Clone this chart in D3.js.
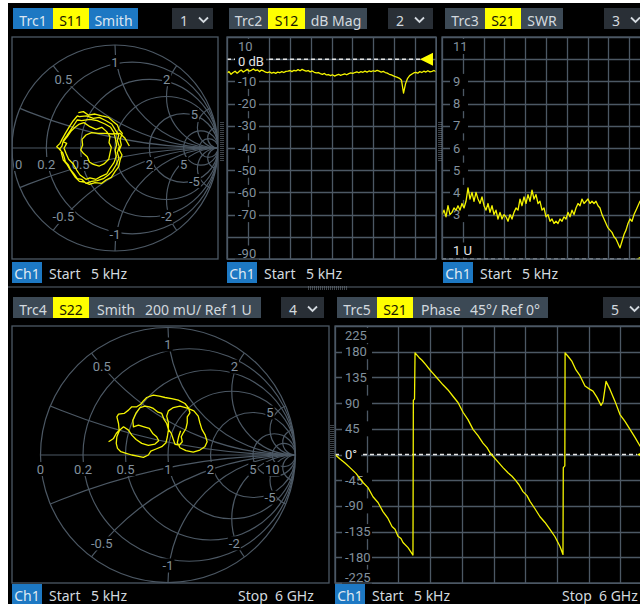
<!DOCTYPE html>
<html><head><meta charset="utf-8">
<script src="https://cdn.jsdelivr.net/npm/d3@7"></script>
<style>body{margin:0;background:#fff;}svg{display:block}</style>
</head><body>
<script>
// ================= DATA =================
const sweepStartGHz = 0.000005, sweepStopGHz = 6;

// Trc1 S11 (Smith) reflection coefficient
const s11Re = [-0.356,-0.307,-0.259,-0.194,-0.129,-0.065,-0.016,0.023,0.042,0.071,0.049,0.061,0.042,0.068,0.049,0.036,0.000,-0.036,-0.087,-0.129,-0.194,-0.249,-0.301,-0.346,-0.385,-0.411,-0.443,-0.469,-0.502,-0.515,-0.528,-0.566,-0.534,-0.515,-0.482,-0.443,-0.405,-0.366,
 -0.346,-0.275,-0.210,-0.152,-0.087,-0.032,0.000,0.036,0.023,0.042,0.023,0.039,0.010,-0.023,-0.065,-0.113,-0.172,-0.227,-0.282,-0.324,-0.366,-0.398,-0.430,-0.453,-0.482,-0.495,-0.508,-0.540,-0.515,-0.502,-0.469,-0.430,-0.392,-0.366,
 -0.324,-0.243,-0.172,-0.097,-0.042,-0.010,0.003,0.016,0.000,0.013,-0.010,-0.049,-0.081,-0.139,-0.184,-0.243,-0.282,-0.340,-0.372,-0.405,-0.450,-0.476,-0.495,-0.469,-0.502,-0.463,-0.430,-0.388,-0.346,-0.301,
 -0.243,-0.184,-0.129,-0.081,-0.049,-0.058,-0.036,-0.049,-0.061,-0.107,-0.152,-0.210,-0.249,-0.269,-0.307,-0.333,-0.314,-0.320,-0.282,-0.227,-0.162,-0.097,-0.023,0.049,0.097,0.139];
const s11Im = [0.343,0.353,0.320,0.330,0.311,0.298,0.256,0.223,0.175,0.142,0.084,0.029,-0.019,-0.068,-0.117,-0.181,-0.230,-0.285,-0.311,-0.343,-0.337,-0.353,-0.330,-0.324,-0.285,-0.246,-0.197,-0.155,-0.117,-0.068,-0.019,0.013,0.045,0.084,0.142,0.207,0.265,0.311,
 0.304,0.311,0.288,0.298,0.265,0.233,0.181,0.126,0.071,0.013,-0.045,-0.100,-0.165,-0.220,-0.262,-0.298,-0.317,-0.324,-0.343,-0.304,-0.298,-0.252,-0.214,-0.165,-0.133,-0.084,-0.045,-0.013,0.019,0.071,0.117,0.175,0.233,0.272,
 0.265,0.278,0.265,0.233,0.201,0.149,0.094,0.029,-0.019,-0.078,-0.142,-0.197,-0.252,-0.278,-0.304,-0.291,-0.304,-0.262,-0.214,-0.155,-0.110,-0.052,-0.003,0.045,0.061,0.110,0.159,0.201,0.233,0.246,
 0.207,0.181,0.201,0.159,0.110,0.052,0.006,-0.052,-0.110,-0.155,-0.175,-0.159,-0.136,-0.084,-0.052,-0.019,0.029,0.084,0.126,0.149,0.142,0.142,0.136,0.142,0.094,0.019];

// Trc2 S12 dB Mag (uniform sweep points)
const s12dB = [-6.2,-5.6,-6.8,-6.0,-5.4,-6.3,
 -5.5,-4.9,-5.8,-5.2,-4.6,-5.4,-5.0,-4.4,-5.1,-4.8,-5.6,-4.9,-5.3,-5.8,
 -6.0,-5.7,-6.3,-5.9,-6.4,-5.8,-6.1,-5.6,-6.0,-5.5,
 -5.4,-5.1,-5.6,-5.0,-5.3,-4.7,-5.2,-4.6,-5.0,-5.4,-5.1,-5.7,-5.3,-5.9,-6.2,-6.0,
 -6.5,-6.8,-6.4,-7.1,-6.9,-7.4,-7.0,-7.6,-7.2,-6.8,-7.3,-6.9,-6.6,-7.0,-6.5,-6.2,-6.4,
 -6.0,-5.7,-6.1,-5.6,-5.9,-5.4,-5.8,-5.3,-5.6,-5.2,-5.5,-5.0,-5.4,-5.8,-5.5,-6.0,-6.3,
 -6.8,-7.1,-7.5,-7.9,-8.2,-8.6,-9.5,
 -15.3,-11.0,
 -8.6,-7.4,-6.8,-6.2,
 -5.9,-6.3,-5.6,-6.0,-5.4,-5.8,-5.2,-5.7,-5.5,-5.1,-5.6];

// Trc3 S21 SWR (uniform sweep points)
const s21SWR = [3.0,3.2,2.9,3.4,3.0,3.1,3.3,3.2,3.4,3.2,3.5,3.3,3.6,4.2,3.7,4.0,3.6,4.0,3.7,3.5,
 3.8,3.4,3.2,3.5,3.1,3.4,3.0,3.2,2.8,3.1,2.8,3.0,2.9,2.7,3.0,2.8,3.1,3.3,3.2,3.7,
 3.4,3.8,3.5,3.9,3.6,4.1,3.7,3.9,3.5,3.6,3.2,3.3,2.9,3.0,2.7,2.8,2.6,2.7,2.6,2.8,
 2.7,2.9,2.8,3.1,2.9,3.2,3.0,3.3,3.5,3.4,3.7,3.5,3.6,3.7,3.5,3.6,3.5,3.6,3.4,3.3,
 3.0,2.8,2.6,2.4,2.3,2.2,2.0,1.9,1.7,1.5,1.8,2.1,2.3,2.6,2.8,2.7,3.0,3.2,3.4,3.6,
 3.5,3.7,3.6,3.8,3.7];

// Trc4 S22 (Smith)
const s22Re = [-0.466,-0.427,-0.406,-0.383,-0.388,-0.401,-0.388,-0.344,-0.310,-0.284,-0.245,-0.214,-0.193,-0.167,-0.115,-0.068,-0.023,0.029,0.081,0.133,0.159,0.172,0.151,0.151,0.141,0.120,0.104,0.112,0.089,0.055,0.042,0.026,0.003,-0.010,-0.031,-0.049,-0.083,-0.115,-0.146,-0.180,-0.219,-0.250,-0.276,-0.271,
 -0.232,-0.188,-0.146,-0.120,-0.089,-0.073,-0.102,-0.154,-0.206,-0.250,-0.284,-0.310,-0.349,-0.380,-0.401,-0.406,-0.396,-0.370,-0.328,-0.284,-0.240,-0.193,-0.154,-0.135,-0.094,-0.049,-0.016,-0.005,0.003,0.003,-0.010,0.003,0.042,0.094,0.151,0.203,0.237,0.250,0.266,0.292,0.307,0.289,0.250,0.198,0.141,0.094,0.073,0.083,0.099];
const s22Im = [0.104,0.130,0.169,0.195,0.247,0.299,0.320,0.326,0.352,0.378,0.378,0.398,0.424,0.451,0.469,0.461,0.451,0.443,0.430,0.404,0.372,0.331,0.299,0.253,0.208,0.174,0.143,0.104,0.078,0.083,0.122,0.169,0.201,0.247,0.279,0.326,0.339,0.365,0.378,0.383,0.372,0.331,0.273,0.221,
 0.234,0.221,0.208,0.169,0.143,0.112,0.086,0.076,0.091,0.122,0.156,0.195,0.221,0.195,0.143,0.091,0.052,0.026,0.013,0.000,-0.008,-0.018,0.000,0.031,0.047,0.065,0.096,0.143,0.195,0.253,0.305,0.346,0.372,0.383,0.367,0.346,0.305,0.253,0.201,0.156,0.104,0.065,0.039,0.023,0.034,0.057,0.096,0.143,0.190];

// Trc5 S21 Phase
const phaseGHz = [0.000005,0.095,0.189,0.284,0.397,0.530,0.625,0.719,0.814,0.908,1.003,1.079,1.136,1.192,1.249,1.287,1.382,1.476,1.483,1.505,1.515,
 1.590,1.647,1.722,1.798,1.855,1.931,1.987,2.044,2.139,2.233,2.328,2.423,2.517,2.612,2.707,2.801,2.877,2.934,2.990,3.085,3.180,3.274,3.350,3.407,3.483,3.558,3.634,3.691,3.785,3.880,3.975,4.069,4.164,4.259,4.315,4.321,4.350,4.355,
 4.410,4.486,4.561,4.637,4.732,4.826,4.883,4.959,5.035,5.073,5.130,5.205,5.300,5.394,5.489,5.584,5.678,5.773,5.868,6.000];
const phaseDeg = [0,-8,-15,-23,-33,-49,-58,-74,-84,-100,-112,-126,-131,-143,-147,-154,-163,-176,95,97,178,
 170,165,157,148,142,134,128,122,113,102,91,74,61,44,33,20,12,3,-3,-13,-23,-32,-38,-44,-53,-65,-72,-82,-95,-109,-119,-131,-144,-161,-175,-23,-20,178,
 172,163,148,138,120,114,111,100,86,92,128,114,93,70,58,44,30,15,2,-12];

// Axis tick labels
const dbTicks = [10,-10,-20,-30,-40,-50,-60,-70,-90];
const swrTicks = [11,9,8,7,6,5,4,3];
const phaseTicks = [225,180,135,90,45,-45,-90,-135,-180,-225];
const smithRes = [0.2,0.5,1,2,5,10];
const smithReact = [0.2,0.5,1,2,5,10];
const smithAxisLabelsBig = [0,0.2,0.5,1,2,5,10];
const smithAxisLabelsSmall = [0,0.2,0.5,2,5];
const smithReactLabels = [0.5,1,2,5,-0.5,-1,-2,-5];

// ================= DRAW =================
const W = 640, H = 604;
const FONT = '"Noto Sans", "Open Sans", sans-serif';
const LFONT = 'Roboto, "Noto Sans", sans-serif';
const COL = {grid:'#4c5864', lab:'#82909d', txt:'#d3d9df', slate:'#3c4955', blue:'#1d78c3',
             yel:'#ffff00', drop:'#292f36', trace:'#f4f400', ref:'#e4e4e4', dark:'#1a1a00'};

const svg = d3.select('body').append('svg').attr('width', W).attr('height', H);
const defs = svg.append('defs');
svg.append('rect').attr('width', W).attr('height', H).attr('fill', '#fff');
svg.append('rect').attr('x', 8).attr('y', 3).attr('width', W - 8).attr('height', H - 3).attr('fill', '#000');

function txt(x, y, s, o = {}) {
  return svg.append('text').attr('x', x).attr('y', y).attr('fill', o.fill || COL.txt)
    .attr('font-size', o.size || 14).attr('font-family', o.font || FONT)
    .attr('text-anchor', o.anchor || 'start').text(s);
}

function header(x, y, parts, drop) {
  let cx = x;
  parts.forEach(p => {
    svg.append('rect').attr('x', cx).attr('y', y).attr('width', p.w).attr('height', 21).attr('fill', p.bg);
    if (p.t2) {
      txt(cx + 8, y + 18, p.t, {fill: p.fg});
      txt(cx + p.o2, y + 18, p.t2, {fill: p.fg});
    } else {
      txt(cx + p.w / 2, y + 18, p.t, {fill: p.fg, anchor: 'middle'});
    }
    cx += p.w;
  });
  svg.append('rect').attr('x', drop.x).attr('y', y).attr('width', drop.w).attr('height', 21).attr('fill', COL.drop);
  txt(drop.x + 8, y + 18, drop.n, {fill: COL.txt});
  svg.append('path').attr('d', `M${drop.x + 27},${y + 9.5}l4.5,4.5l4.5,-4.5`)
    .attr('stroke', COL.txt).attr('stroke-width', 1.8).attr('fill', 'none');
}

function footer(x, y, stop) {
  svg.append('rect').attr('x', x).attr('y', y).attr('width', 30).attr('height', 21).attr('fill', COL.blue);
  txt(x + 15, y + 16.5, 'Ch1', {anchor: 'middle', fill: '#dfe8f2'});
  txt(x + 37, y + 16.5, 'Start');
  txt(x + 79, y + 16.5, '5 kHz');
  if (stop) {
    txt(stop.x, y + 16.5, 'Stop');
    txt(stop.x + 37, y + 16.5, '6 GHz');
  }
}

let clipN = 0;
function clipRect(x, y, w, h) {
  const id = 'cl' + (clipN++);
  defs.append('clipPath').attr('id', id).append('rect').attr('x', x).attr('y', y).attr('width', w).attr('height', h);
  return `url(#${id})`;
}
function clipCircle(cx, cy, r) {
  const id = 'cl' + (clipN++);
  defs.append('clipPath').attr('id', id).append('circle').attr('cx', cx).attr('cy', cy).attr('r', r);
  return `url(#${id})`;
}

function labelBox(x, base, s, w, fill) {
  svg.append('rect').attr('x', x - 3).attr('y', base - 12).attr('width', w).attr('height', 15).attr('fill', '#000');
  txt(x, base, s, {size: 13, fill: fill || COL.lab, font: LFONT});
}

// ---------- Cartesian panel ----------
function cartPanel(p) {
  const x = d3.scaleLinear().domain(p.xdom).range([p.x0, p.x1]);
  const y = d3.scaleLinear().domain(p.ydom).range([p.y1, p.y0]);
  const g = svg.append('g').attr('clip-path', clipRect(p.x0 - 1, p.y0 - 1, p.x1 - p.x0 + 2, p.y1 - p.y0 + 2));
  d3.range(0, 11).forEach(k => {
    const xx = Math.round(p.x0 + k * (p.x1 - p.x0) / 10) + 0.5;
    g.append('line').attr('x1', xx).attr('x2', xx).attr('y1', p.y0).attr('y2', p.y1)
      .attr('stroke', COL.grid).attr('stroke-width', 1.3);
  });
  d3.range(p.ydom[0], p.ydom[1] + 1e-9, p.ystep).forEach(v => {
    const yy = Math.round(y(v)) + 0.5;
    g.append('line').attr('x1', p.x0).attr('x2', p.x1).attr('y1', yy).attr('y2', yy)
      .attr('stroke', COL.grid).attr('stroke-width', 1.3);
  });
  // tick labels (top label pushed down, bottom label pushed up, as the instrument does)
  p.ticks.forEach(v => {
    const c = Math.max(p.y0 + 9.5, Math.min(p.y1 - 6, y(v)));
    labelBox(p.lx, c + 4.5, p.fmt(v), p.lw);
  });
  // reference line
  const ry = y(p.ref);
  const gr = svg.append('g').attr('clip-path', clipRect(p.x0, p.y0 - 1, p.x1 - p.x0, p.y1 - p.y0 + 1.5));
  gr.append('line').attr('x1', p.x0).attr('x2', p.refEnd).attr('y1', ry).attr('y2', ry)
    .attr('stroke', COL.ref).attr('stroke-width', 1.4).attr('stroke-dasharray', '4,3');
  const rc = Math.max(p.y0 + 10, Math.min(p.y1 - 9, ry));
  labelBox(p.lx, rc + p.refDy, p.refLabel, p.refW, COL.ref);
  // trace
  const gt = svg.append('g').attr('clip-path', clipRect(p.x0, p.y0, p.x1 - p.x0, p.y1 - p.y0));
  gt.append('path').datum(p.data)
    .attr('d', d3.line().x(d => x(d[0])).y(d => y(d[1])))
    .attr('fill', 'none').attr('stroke', COL.trace).attr('stroke-width', 1.3).attr('stroke-linejoin', 'round');
  gr.append('path').attr('d', `M${p.refEnd},${ry}l13,-6.5v13z`).attr('fill', COL.yel);
  svg.append('rect').attr('x', p.x0).attr('y', p.y0).attr('width', p.x1 - p.x0).attr('height', p.y1 - p.y0)
    .attr('fill', 'none').attr('stroke', COL.grid).attr('stroke-width', 1.3);
}

// ---------- Smith panel ----------
function smithPanel(p) {
  const sx = d3.scaleLinear().domain([-1, 1]).range([p.cx - p.R, p.cx + p.R]);
  const sy = d3.scaleLinear().domain([-1, 1]).range([p.cy + p.R, p.cy - p.R]);
  const k = v => v * p.R;
  const gd = svg.append('g').attr('clip-path', clipRect(p.x0, p.y0, p.x1 - p.x0, p.y1 - p.y0));
  const gc = gd.append('g').attr('clip-path', clipCircle(p.cx, p.cy, p.R));
  const sty = s => s.attr('stroke', COL.grid).attr('stroke-width', 1.2).attr('fill', 'none');
  smithRes.forEach(r => sty(gc.append('circle').attr('cx', sx(r / (1 + r))).attr('cy', sy(0)).attr('r', k(1 / (1 + r)))));
  smithReact.forEach(xv => [xv, -xv].forEach(xx =>
    sty(gc.append('circle').attr('cx', sx(1)).attr('cy', sy(1 / xx)).attr('r', k(1 / Math.abs(xx))))));
  sty(gd.append('circle').attr('cx', p.cx).attr('cy', p.cy).attr('r', p.R));
  sty(gd.append('line').attr('x1', sx(-1)).attr('x2', sx(1)).attr('y1', sy(0)).attr('y2', sy(0)));
  // axis labels
  p.axisLabels.forEach(r => {
    const g0 = (r - 1) / (r + 1);
    const s = String(r);
    const t = txt(0, 0, s, {size: 13, fill: COL.lab, anchor: 'middle', font: LFONT});
    const bw = t.node().getBBox().width;
    const xc = Math.max(p.x0 + 3 + bw / 2, sx(g0));
    t.remove();
    svg.append('rect').attr('x', xc - bw / 2 - 1).attr('y', sy(0) + p.ly - 7).attr('width', bw + 2).attr('height', 14).attr('fill', '#000');
    txt(xc, sy(0) + p.ly + 4.5, s, {size: 13, fill: COL.lab, anchor: 'middle', font: LFONT});
  });
  // reactance labels
  smithReactLabels.forEach(xv => {
    const re = (xv * xv - 1) / (xv * xv + 1), im = 2 * xv / (xv * xv + 1);
    const d = p.R - 17;
    const px = p.cx + re * d, py = p.cy - im * d;
    const t = txt(px, py + 4.5, String(xv), {size: 13, fill: COL.lab, anchor: 'middle', font: LFONT});
    const bb = t.node().getBBox();
    svg.insert('rect', () => t.node()).attr('x', bb.x - 1).attr('y', py - 7).attr('width', bb.width + 2).attr('height', 14).attr('fill', '#000');
  });
  // trace
  const pts = p.re.map((r, i) => [r, p.im[i]]);
  svg.append('g').attr('clip-path', clipRect(p.x0, p.y0, p.x1 - p.x0, p.y1 - p.y0))
    .append('path').datum(pts)
    .attr('d', d3.line().x(d => sx(d[0])).y(d => sy(d[1])))
    .attr('fill', 'none').attr('stroke', COL.trace).attr('stroke-width', 1.3).attr('stroke-linejoin', 'round');
  svg.append('rect').attr('x', p.x0).attr('y', p.y0).attr('width', p.x1 - p.x0).attr('height', p.y1 - p.y0)
    .attr('fill', 'none').attr('stroke', COL.grid).attr('stroke-width', 1.3);
}

// ---------- Panels ----------
// Panel 1: Trc1 S11 Smith
header(13, 8, [
  {t: 'Trc1', w: 40, bg: COL.blue, fg: '#dbe6f1'},
  {t: 'S11', w: 36, bg: COL.yel, fg: COL.dark},
  {t: 'Smith', w: 49, bg: COL.blue, fg: '#dbe6f1'}], {x: 172, w: 41, n: '1'});
smithPanel({x0: 12, x1: 218, y0: 37, y1: 259, cx: 115, cy: 148, R: 103, ly: 16,
  axisLabels: smithAxisLabelsSmall, re: s11Re, im: s11Im});
footer(12, 262);

// Panel 2: Trc2 S12 dB Mag
header(229, 8, [
  {t: 'Trc2', w: 39, bg: COL.slate, fg: COL.txt},
  {t: 'S12', w: 37, bg: COL.yel, fg: COL.dark},
  {t: 'dB Mag', w: 62, bg: COL.slate, fg: COL.txt}], {x: 388, w: 45, n: '2'});
cartPanel({x0: 227, x1: 436, y0: 37, y1: 259, ydom: [-90, 10], ystep: 10,
  xdom: [0, s12dB.length - 1], data: s12dB.map((v, i) => [i, v]),
  ticks: dbTicks, fmt: v => String(v), lx: 238, lw: 24,
  ref: 0, refLabel: '0 dB', refW: 31, refDy: 6.5, refEnd: 420});
footer(227, 262);

// Panel 3: Trc3 S21 SWR
header(445, 8, [
  {t: 'Trc3', w: 40, bg: COL.slate, fg: COL.txt},
  {t: 'S21', w: 36, bg: COL.yel, fg: COL.dark},
  {t: 'SWR', w: 42, bg: COL.slate, fg: COL.txt}], {x: 604, w: 45, n: '3'});
cartPanel({x0: 442, x1: 650, y0: 37, y1: 259, ydom: [1, 11], ystep: 1,
  xdom: [0, s21SWR.length - 1], data: s21SWR.map((v, i) => [i, v]),
  ticks: swrTicks, fmt: v => String(v), lx: 453, lw: 18,
  ref: 1, refLabel: '1 U', refW: 25, refDy: 4.5, refEnd: 636});
footer(443, 262);

// Panel 4: Trc4 S22 Smith
header(13, 297, [
  {t: 'Trc4', w: 40, bg: COL.slate, fg: COL.txt},
  {t: 'S22', w: 36, bg: COL.yel, fg: COL.dark},
  {t: 'Smith', t2: '200 mU/ Ref 1 U', o2: 56, w: 172, bg: COL.slate, fg: COL.txt}], {x: 281, w: 43, n: '4'});
smithPanel({x0: 12, x1: 329, y0: 326, y1: 583, cx: 168, cy: 455, R: 127.5, ly: 14,
  axisLabels: smithAxisLabelsBig, re: s22Re, im: s22Im});
footer(12, 584, {x: 238});

// Panel 5: Trc5 S21 Phase
header(337, 297, [
  {t: 'Trc5', w: 40, bg: COL.slate, fg: COL.txt},
  {t: 'S21', w: 36, bg: COL.yel, fg: COL.dark},
  {t: 'Phase', t2: '45°/ Ref 0°', o2: 57, w: 135, bg: COL.slate, fg: COL.txt}], {x: 603, w: 45, n: '5'});
cartPanel({x0: 335, x1: 652, y0: 326, y1: 583, ydom: [-225, 225], ystep: 45,
  xdom: [sweepStartGHz, sweepStopGHz], data: phaseGHz.map((f, i) => [f, phaseDeg[i]]),
  ticks: phaseTicks, fmt: v => String(v), lx: 345, lw: 30,
  ref: 0, refLabel: '0°', refW: 19, refDy: 4.5, refEnd: 637});
footer(335, 584, {x: 562});

// ---------- dividers & handles ----------
svg.append('rect').attr('x', 8).attr('y', 286).attr('width', W - 8).attr('height', 2).attr('fill', '#2d3339');
function vHandle(x, y0, y1) {
  [x, x + 2].forEach(xx => svg.append('line').attr('x1', xx).attr('x2', xx).attr('y1', y0).attr('y2', y1)
    .attr('stroke', '#7c8792').attr('stroke-width', 1).attr('stroke-dasharray', '1,1'));
}
vHandle(221, 122, 162);
vHandle(439, 122, 162);
vHandle(331, 425, 458);
[287, 289].forEach(yy => svg.append('line').attr('x1', 308).attr('x2', 348).attr('y1', yy).attr('y2', yy)
  .attr('stroke', '#7c8792').attr('stroke-width', 1).attr('stroke-dasharray', '1,1'));
</script>
</body></html>
